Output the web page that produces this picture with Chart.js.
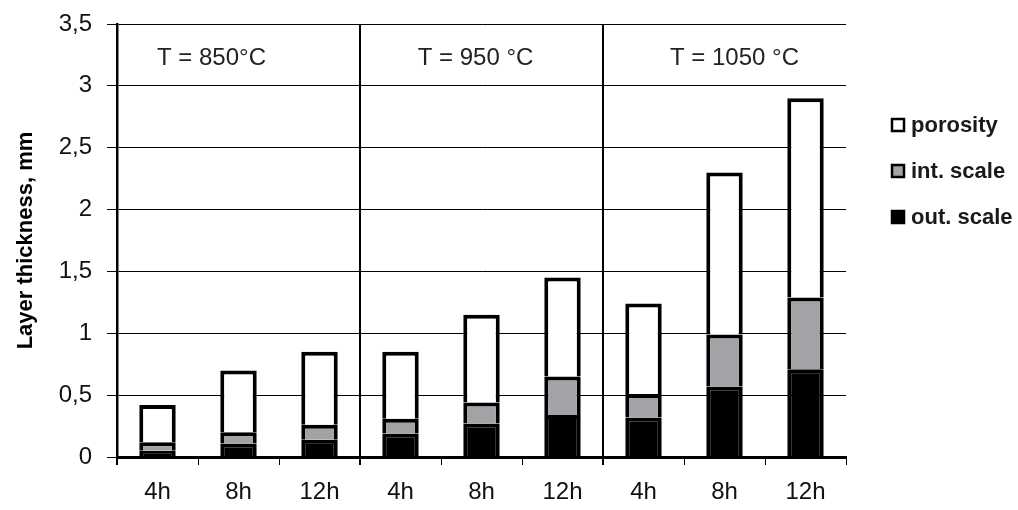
<!DOCTYPE html>
<html>
<head>
<meta charset="utf-8">
<script src="https://cdn.jsdelivr.net/npm/chart.js@4"></script>
<style>
  body { margin: 0; background: #fff; }
</style>
</head>
<body>
<canvas id="myChart" width="1018" height="510"></canvas>
<script>
const categories = ['4h', '8h', '12h', '4h', '8h', '12h', '4h', '8h', '12h'];
const groups = ['T = 850°C', 'T = 950 °C', 'T = 1050 °C'];
const outScale = [0.05, 0.11, 0.14, 0.19, 0.27, 0.34, 0.32, 0.57, 0.71];
const intScale = [0.07, 0.09, 0.12, 0.12, 0.17, 0.31, 0.19, 0.42, 0.58];
const porosity = [0.30, 0.50, 0.59, 0.54, 0.71, 0.80, 0.73, 1.31, 1.61];
const legendItems = [
    { text: 'porosity', fill: '#ffffff' },
    { text: 'int. scale', fill: '#a1a3a6' },
    { text: 'out. scale', fill: '#000000' }
];

const ctx = document.getElementById('myChart');

// group headers + legend drawn on top
const extras = {
    id: 'extras',
    afterDraw(chart) {
        const c = chart.ctx;
        const x = chart.scales.x;
        const y = chart.scales.y;
        const shift = [-27, -6, 10];
        c.save();
        c.fillStyle = '#222';
        c.font = '24px "Liberation Sans", Arial, sans-serif';
        c.textAlign = 'center';
        c.textBaseline = 'middle';
        groups.forEach((g, i) => {
            c.fillText(g, x.getPixelForValue(i * 3 + 1) + shift[i], y.getPixelForValue(3.22));
        });
        c.font = 'bold 22px "Liberation Sans", Arial, sans-serif';
        c.textAlign = 'left';
        legendItems.forEach((it, i) => {
            const cy = 125 + i * 46;
            c.fillStyle = it.fill;
            c.fillRect(892, cy - 6, 12, 12);
            c.strokeStyle = '#000';
            c.lineWidth = 2.5;
            c.strokeRect(892, cy - 6, 12, 12);
            c.fillStyle = '#1a1a1a';
            c.fillText(it.text, 911, cy + 1);
        });
        c.restore();
    }
};

new Chart(ctx, {
    type: 'bar',
    data: {
        labels: categories,
        datasets: [
            {
                label: 'out. scale',
                data: outScale,
                backgroundColor: '#000000',
                borderColor: '#000000',
                borderWidth: 4
            },
            {
                label: 'int. scale',
                data: intScale,
                backgroundColor: '#a1a3a6',
                borderColor: '#000000',
                borderWidth: 4
            },
            {
                label: 'porosity',
                data: porosity,
                backgroundColor: '#ffffff',
                borderColor: '#000000',
                borderWidth: 4
            }
        ]
    },
    options: {
        responsive: false,
        animation: false,
        layout: { padding: { left: 0, right: 172, top: 24, bottom: 0 } },
        datasets: { bar: { categoryPercentage: 1, barPercentage: 0.45 } },
        plugins: {
            legend: { display: false },
            tooltip: { enabled: false }
        },
        scales: {
            x: {
                stacked: true,
                afterFit: (s) => { s.height = 53; s.paddingLeft = 0; s.paddingRight = 0; },
                grid: {
                    offset: true,
                    color: (c) => c.index % 3 === 0 ? '#000' : 'rgba(0,0,0,0)',
                    lineWidth: (c) => c.index % 3 === 0 ? 2 : 1,
                    tickColor: '#000',
                    tickLength: 8
                },
                border: { color: '#000', width: 3 },
                ticks: {
                    color: '#111',
                    padding: 13,
                    font: { family: '"Liberation Sans", Arial, sans-serif', size: 24 }
                }
            },
            y: {
                stacked: true,
                min: 0,
                max: 3.5,
                afterFit: (s) => { s.width = 117; s.paddingTop = 0; s.paddingBottom = 0; },
                grid: {
                    color: '#000',
                    lineWidth: 1,
                    tickColor: '#000',
                    tickLength: 10
                },
                border: { color: '#000', width: 2.5 },
                ticks: {
                    stepSize: 0.5,
                    color: '#111',
                    padding: 15,
                    font: { family: '"Liberation Sans", Arial, sans-serif', size: 24 },
                    callback: (v) => v.toString().replace('.', ',')
                },
                title: {
                    display: true,
                    text: 'Layer thickness, mm',
                    color: '#000',
                    padding: { top: 13, bottom: 0 },
                    font: { family: '"Liberation Sans", Arial, sans-serif', size: 22, weight: 'bold' }
                }
            }
        }
    },
    plugins: [extras]
});
</script>
</body>
</html>
